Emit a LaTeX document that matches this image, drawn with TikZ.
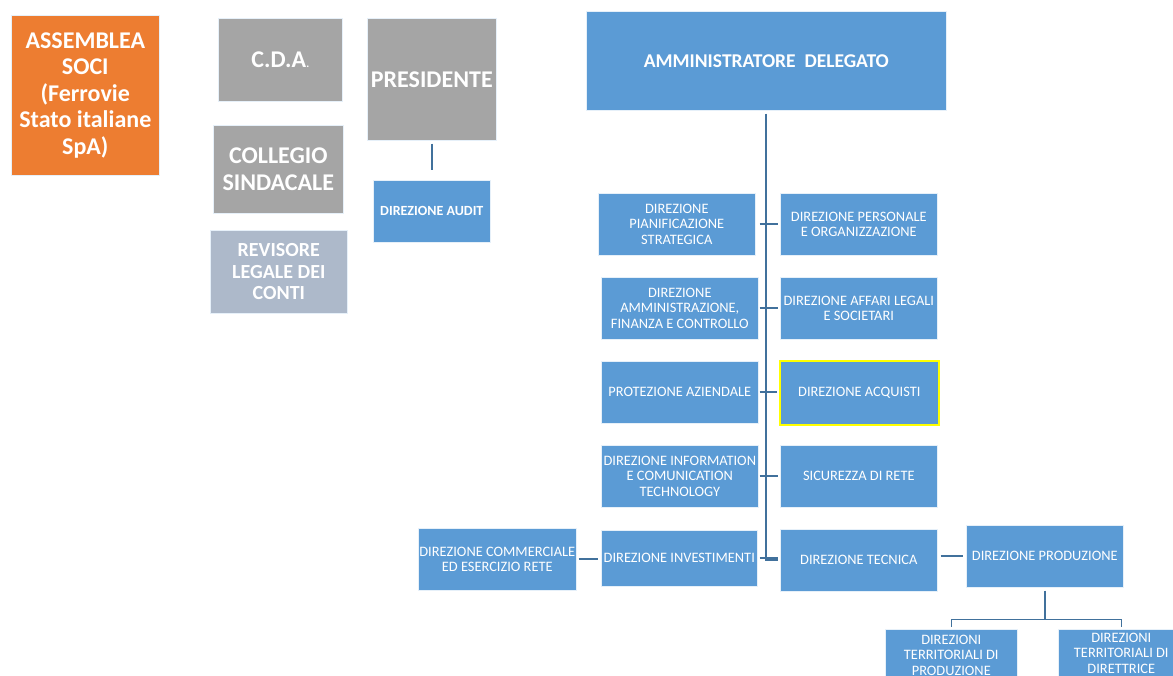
\documentclass[tikz,border=0pt]{standalone}
\usepackage{fontspec}
\setmainfont{Carlito}
\definecolor{orng}{HTML}{ED7D31}
\definecolor{gry}{HTML}{A5A5A5}
\definecolor{blu}{HTML}{5B9BD5}
\definecolor{lgry}{HTML}{ADB9CA}
\definecolor{lin}{HTML}{41719C}
\definecolor{yel}{HTML}{FFFF00}
\begin{document}
\begin{tikzpicture}[x=1pt,y=-1pt,
  box/.style={anchor=north west,inner sep=0pt,align=center,text=white,draw=white!85!blu,line width=0.6pt},
  big/.style={box,font=\fontsize{24}{26.5}\selectfont\bfseries},
  bl/.style={box,fill=blu,font=\fontsize{14.4}{15.5}\selectfont},
  conn/.style={draw=lin,line width=2pt}]
\useasboundingbox (0,0) rectangle (1173,675);
\clip (0,0) rectangle (1173,675);
\node[big,fill=orng,minimum width=148pt,minimum height=160pt] (ass) at (11,15) {ASSEMBLEA\\SOCI\\(Ferrovie\\Stato italiane\\SpA)};
\node[big,fill=gry,minimum width=124pt,minimum height=83pt] (cda) at (218,18) {C.D.A{\fontsize{11}{11}\selectfont.}};
\node[big,fill=gry,minimum width=129pt,minimum height=122pt] (pres) at (367,18) {PRESIDENTE};
\node[big,fill=gry,minimum width=130pt,minimum height=88pt] (coll) at (213,125) {COLLEGIO\\SINDACALE};
\node[box,fill=lgry,minimum width=137pt,minimum height=83pt,font=\fontsize{20}{21.5}\selectfont\bfseries] (rev) at (210,230) {REVISORE\\LEGALE DEI\\CONTI};
\node[bl,minimum width=117pt,minimum height=62pt,font=\fontsize{14}{15}\selectfont\bfseries] (aud) at (373,180) {DIREZIONE AUDIT};
\node[bl,minimum width=360pt,minimum height=99pt,font=\fontsize{19.5}{22}\selectfont\bfseries] (ad) at (586,11) {AMMINISTRATORE\ \ DELEGATO};
% left column
\node[bl,minimum width=157pt,minimum height=62pt] (pian) at (598,193) {DIREZIONE\\PIANIFICAZIONE\\STRATEGICA};
\node[bl,minimum width=157pt,minimum height=62pt] (amm) at (601,277) {DIREZIONE\\AMMINISTRAZIONE,\\FINANZA E CONTROLLO};
\node[bl,minimum width=157pt,minimum height=62pt] (prot) at (601,361) {PROTEZIONE AZIENDALE};
\node[bl,minimum width=157pt,minimum height=62pt] (ict) at (601,445) {DIREZIONE INFORMATION\\E COMUNICATION\\TECHNOLOGY};
\node[bl,minimum width=156pt,minimum height=56pt] (inv) at (601,530) {DIREZIONE INVESTIMENTI};
% right column
\node[bl,minimum width=157pt,minimum height=62pt] (pers) at (780,193) {DIREZIONE PERSONALE\\E ORGANIZZAZIONE};
\node[bl,minimum width=157pt,minimum height=62pt] (leg) at (780,277) {DIREZIONE AFFARI LEGALI\\E SOCIETARI};
\node[bl,minimum width=159pt,minimum height=64pt,draw=yel,line width=1.6pt] (acq) at (779,360) {DIREZIONE ACQUISTI};
\node[bl,minimum width=157pt,minimum height=62pt] (sic) at (780,445) {SICUREZZA DI RETE};
\node[bl,minimum width=157pt,minimum height=62pt] (tec) at (780,529) {DIREZIONE TECNICA};
% others
\node[bl,minimum width=158pt,minimum height=62pt] (com) at (418,528) {DIREZIONE COMMERCIALE\\ED ESERCIZIO RETE};
\node[bl,minimum width=157pt,minimum height=62pt] (prod) at (966,525) {DIREZIONE PRODUZIONE};
\node[bl,minimum width=132pt,minimum height=52pt] (terp) at (885,629) {DIREZIONI\\TERRITORIALI DI\\PRODUZIONE};
\node[bl,minimum width=126pt,minimum height=48pt] (terd) at (1058,629) {DIREZIONI\\TERRITORIALI DI\\DIRETTRICE};
% connectors
\draw[conn] ([yshift=-3pt]pres.south) -- ([yshift=10pt]aud.north);
\draw[conn] ([yshift=-3pt]ad.south) |- ([xshift=-2pt]tec.west);
\draw[conn,shorten <=4pt,shorten >=2pt] (pian.east) -- (pian.east -| pers.west);
\draw[conn,shorten <=1pt,shorten >=2pt] (amm.east) -- (amm.east -| leg.west);
\draw[conn,shorten <=1pt,shorten >=2pt] (prot.east) -- (prot.east -| acq.west);
\draw[conn,shorten <=1pt,shorten >=2pt] (ict.east) -- (ict.east -| sic.west);
\draw[conn,shorten <=2pt,shorten >=2pt] (inv.east) -- (inv.east -| tec.west);
\draw[conn,shorten <=2pt,shorten >=3pt] (com.east) -- (com.east -| inv.west);
\draw[conn,shorten <=3pt,shorten >=3pt] (prod.west -| tec.east) -- (prod.west);
\draw[conn] ([yshift=-3pt]prod.south) -- ++(0,29) coordinate (fork);
\draw[conn,line width=1.6pt] (fork) -| ([yshift=2pt]terp.north);
\draw[conn,line width=1.6pt] (fork) -| ([yshift=2pt]terd.north);
\end{tikzpicture}
\end{document}
